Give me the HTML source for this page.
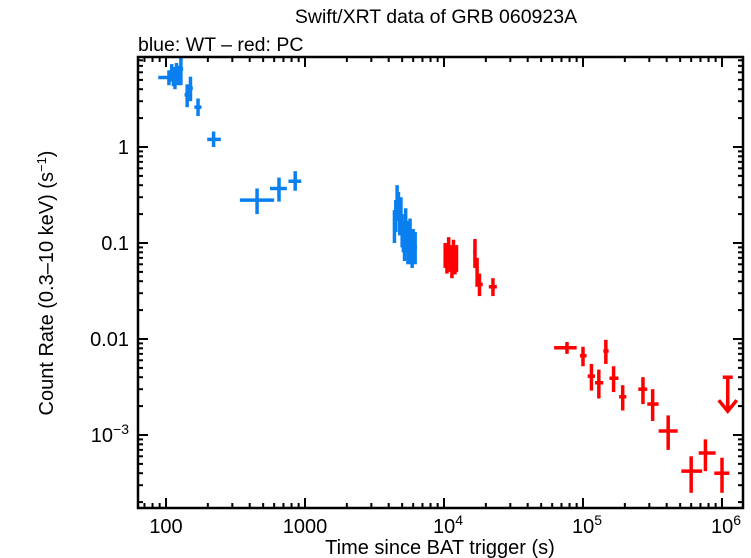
<!DOCTYPE html>
<html><head><meta charset="utf-8"><style>
body{margin:0;background:#fff}
svg{display:block;font-family:"Liberation Sans",Helvetica,Arial,sans-serif}
</style></head><body>
<svg id="chart" width="751" height="558" viewBox="0 0 751 558" xmlns="http://www.w3.org/2000/svg">
<rect width="751" height="558" fill="#fff"/>
<text x="436" y="23" font-size="19.5" text-anchor="middle">Swift/XRT data of GRB 060923A</text>
<text x="138" y="51" font-size="19.5">blue: WT – red: PC</text>
<text x="440" y="554" font-size="20" text-anchor="middle">Time since BAT trigger (s)</text>
<text transform="translate(53,283) rotate(-90)" font-size="20" text-anchor="middle">Count Rate (0.3–10 keV) (s<tspan dy="-7" font-size="13">−1</tspan><tspan dy="7">)</tspan></text>
<g id="ticks"></g>
<g id="data"></g>
<rect x="138" y="57" width="605" height="451" fill="none" stroke="#000" stroke-width="2.5"/>
</svg>
<script>
// WT mode (blue)
const wtT   =[105,110,113,116,119,122,125,128,142,150,170,220,452,650,850,4400,4500,4600,4700,4800,4900,5000,5100,5200,5300,5400,5500,5600,5700,5800,5900,6000,6200];
const wtTlo =[88,104,109,112,115,118,121,124,136,145,160,198,340,560,760,4350,4450,4550,4650,4750,4850,4950,5050,5150,5250,5350,5450,5550,5650,5750,5850,5950,6100];
const wtThi =[122,116,118,121,124,127,130,133,148,156,180,248,600,740,940,4450,4550,4650,4750,4850,4950,5050,5150,5250,5350,5450,5550,5650,5750,5850,5950,6050,6400];
const wtR   =[5.3,6.0,5.5,5.0,6.2,5.5,5.8,6.5,3.5,4.1,2.6,1.2,0.28,0.37,0.44,0.15,0.2,0.3,0.25,0.18,0.22,0.14,0.12,0.1,0.16,0.12,0.09,0.1,0.13,0.09,0.08,0.1,0.09];
const wtRlo =[4.4,4.8,4.3,4.0,4.9,4.4,4.7,4.4,2.6,3.0,2.1,1.0,0.2,0.27,0.35,0.1,0.13,0.2,0.17,0.12,0.15,0.09,0.08,0.065,0.11,0.08,0.06,0.066,0.085,0.06,0.055,0.065,0.06];
const wtRhi =[6.3,7.3,6.8,6.2,7.5,6.8,7.0,8.6,4.5,5.4,3.2,1.45,0.37,0.48,0.56,0.22,0.28,0.4,0.34,0.26,0.3,0.2,0.17,0.14,0.23,0.17,0.13,0.14,0.18,0.13,0.12,0.14,0.13];
// PC mode (red)
const pcT   =[10200,10500,10800,11100,11400,11700,12000,12300,16700,17300,18000,22500,76700,100000,115000,130000,146000,166000,193000,270000,317000,410000,600000,760000,1000000];
const pcTlo =[10050,10350,10650,10950,11250,11550,11850,12150,16200,16900,17500,21000,62000,95000,108000,122000,140000,155000,182000,250000,290000,350000,510000,680000,880000];
const pcThi =[10350,10650,10950,11250,11550,11850,12150,12450,17000,17700,19000,24000,90000,106000,122000,140000,153000,180000,205000,290000,350000,480000,720000,900000,1130000];
const pcR   =[0.075,0.065,0.085,0.07,0.06,0.08,0.065,0.07,0.08,0.05,0.037,0.035,0.0081,0.0067,0.0041,0.0035,0.0075,0.0039,0.0025,0.003,0.0021,0.0011,0.00042,0.00065,0.0004];
const pcRlo =[0.055,0.048,0.062,0.05,0.043,0.058,0.047,0.05,0.055,0.035,0.028,0.028,0.007,0.0052,0.0029,0.0024,0.0055,0.0028,0.0018,0.0021,0.0014,0.0007,0.00025,0.00042,0.00025];
const pcRhi =[0.1,0.088,0.115,0.095,0.083,0.108,0.088,0.095,0.11,0.07,0.048,0.043,0.0093,0.0083,0.0055,0.0048,0.0098,0.0052,0.0033,0.0040,0.0030,0.0016,0.0006,0.0009,0.00058];
// upper limit
const ulT=[1100000]; const ulR=[0.004];
const xTickVals=[100,1000,1e4,1e5,1e6];
const xTickLabels=[["100",""],["1000",""],["10","4"],["10","5"],["10","6"]];
const yTickVals=[1,0.1,0.01,0.001];
const yTickLabels=[["1",""],["0.1",""],["0.01",""],["10","−3"]];

const NS="http://www.w3.org/2000/svg";
const BOT=508, TOP=57, LEFT=138, RIGHT=743;
const X=t=>166+139*(Math.log10(t)-2);
const Y=v=>147-96*Math.log10(v);
function mk(tag,attrs,parent){const e=document.createElementNS(NS,tag);for(const k in attrs)e.setAttribute(k,attrs[k]);parent.appendChild(e);return e;}
const tg=document.getElementById('ticks');
for(let d=1;d<=6;d++){for(let m=1;m<10;m++){const t=m*Math.pow(10,d);const x=X(t);if(x<LEFT+1||x>RIGHT-1)continue;
 const L=m==1?10:5;
 const a=mk('line',{x1:x,x2:x,y1:BOT,y2:BOT-L,stroke:'#000','stroke-width':2},tg);
 
 const b=mk('line',{x1:x,x2:x,y1:TOP,y2:TOP+L,stroke:'#000','stroke-width':2},tg);
 }}
for(let e=-4;e<=1;e++){for(let m=1;m<10;m++){const v=m*Math.pow(10,e);const y=Y(v);if(y<TOP+1||y>BOT-1)continue;
 const L=m==1?10:5;
 const a=mk('line',{x1:LEFT,x2:LEFT+L,y1:y,y2:y,stroke:'#000','stroke-width':2},tg);
 
 const b=mk('line',{x1:RIGHT,x2:RIGHT-L,y1:y,y2:y,stroke:'#000','stroke-width':2},tg);
 }}
xTickVals.forEach((t,i)=>{const tx=mk('text',{x:X(t),y:BOT+25,'font-size':20,'text-anchor':'middle'},tg);
 
 tx.textContent=xTickLabels[i][0];
 if(xTickLabels[i][1]){tx.setAttribute('x',X(t)+4);const s=mk('tspan',{dy:-8,'font-size':14},tx);s.textContent=xTickLabels[i][1];}});
yTickVals.forEach((v,i)=>{const tx=mk('text',{x:129,y:Y(v)+7,'font-size':20,'text-anchor':'end'},tg);
 
 tx.textContent=yTickLabels[i][0];
 if(yTickLabels[i][1]){const s=mk('tspan',{dy:-8,'font-size':14},tx);s.textContent=yTickLabels[i][1];}});
const dg=document.getElementById('data');
function series(T,Tl,Th,R,Rl,Rh,col,name){for(let i=0;i<T.length;i++){
 const g=mk('g',{},dg);
 mk('line',{x1:X(Tl[i]),x2:X(Th[i]),y1:Y(R[i]),y2:Y(R[i]),stroke:col,'stroke-width':3.5},g);
 mk('line',{x1:X(T[i]),x2:X(T[i]),y1:Y(Rl[i]),y2:Y(Rh[i]),stroke:col,'stroke-width':3.5},g);}}
series(wtT,wtTlo,wtThi,wtR,wtRlo,wtRhi,'#0a7ff0','wt-point');
series(pcT,pcTlo,pcThi,pcR,pcRlo,pcRhi,'#ff0000','pc-point');
ulT.forEach((t,i)=>{const g=mk('g',{fill:'none',stroke:'#ff0000','stroke-width':3.5},dg);
 
 const x=X(t),y=Y(ulR[i]);
 mk('line',{x1:x-5,x2:x+5,y1:y,y2:y},g);
 mk('line',{x1:x,x2:x,y1:y,y2:y+34},g);
 mk('polyline',{points:`${x-9},${y+23} ${x},${y+34} ${x+9},${y+23}`},g);});
</script>
</body></html>
